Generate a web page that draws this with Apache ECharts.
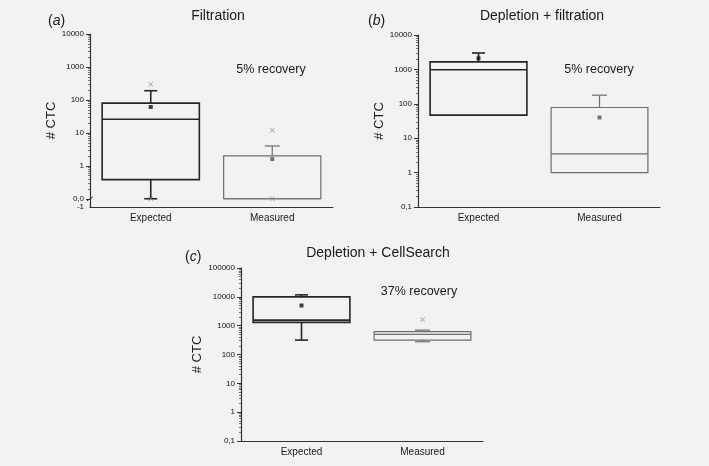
<!DOCTYPE html>
<html><head><meta charset="utf-8">
<script src="https://cdn.jsdelivr.net/npm/echarts@6/dist/echarts.min.js"></script>
<style>html,body{margin:0;padding:0;background:#f2f2f2}#chart{width:709px;height:466px}</style>
</head><body><div id="chart"></div>
<script>
const categories = ['Expected', 'Measured'];

// box statistics: [min, Q1, median, Q3, max]
const aBoxes = [[0, 0.38, 26, 80, 190], [0, 0, 0, 2, 4]];
const aMeans = [61, 1.6];
const aOutliers = [[0, 300], [0, 0], [1, 12], [1, 0]];
const aTickLabels = ['-1', '0,0', '1', '10', '100', '1000', '10000'];
const aTickLogs = [-1.25, -1, 0, 1, 2, 3, 4];

const bBoxes = [[47, 47, 980, 1650, 3000], [1, 1, 3.5, 78, 178]];
const bMeans = [2100, 40];
const bOutliers = [];
const bTickLabels = ['0,1', '1', '10', '100', '1000', '10000'];
const bTickLogs = [-1, 0, 1, 2, 3, 4];

const cBoxes = [[316, 1300, 1560, 10000, 11700], [277, 316, 500, 620, 700]];
const cMeans = [5000];
const cOutliers = [[1, 1650]];
const cTickLabels = ['0,1', '1', '10', '100', '1000', '10000', '100000'];
const cTickLogs = [-1, 0, 1, 2, 3, 4, 5];

const panelTitles = ['Filtration', 'Depletion + filtration', 'Depletion + CellSearch'];
const panelLetters = ['a', 'b', 'c'];
const recoveryTexts = ['5% recovery', '5% recovery', '37% recovery'];

const ZERO = -1; // position of the value 0 on the broken log axis of panel (a)
function pos(v) { return v <= 0 ? ZERO : Math.log10(v); }

const FONT = 'Liberation Sans, Arial, sans-serif';
const boxStyles = [
  { color: '#262626', lw: 1.6, cap: 13 },
  { color: '#6e6e6e', lw: 1.2, cap: 15 }
];
const meanColors = ['#111', '#555'];

const grids = [
  { left: 90, top: 34, width: 243, height: 173, min: -1.25, max: 4, ticks: aTickLogs, labels: aTickLabels, nameGap: 30 },
  { left: 418, top: 35, width: 242, height: 172, min: -1, max: 4, ticks: bTickLogs, labels: bTickLabels, nameGap: 29 },
  { left: 241, top: 268, width: 242, height: 173, min: -1, max: 5, ticks: cTickLogs, labels: cTickLabels, nameGap: 35 }
];
const boxesAll = [aBoxes, bBoxes, cBoxes];
const meansAll = [aMeans, bMeans, cMeans];
const outAll = [aOutliers, bOutliers, cOutliers];

function minorTicks(min, max) {
  const out = [];
  for (let n = Math.floor(min); n < max; n++) {
    for (let k = 2; k <= 9; k++) {
      const v = n + Math.log10(k);
      if (v >= Math.max(min, -1) && v <= max) out.push(v);
    }
  }
  return out;
}

function renderBox(params, api) {
  const i = params.dataIndex;
  const st = boxStyles[i];
  const x = api.value(0);
  const p = [1, 2, 3, 4, 5].map(k => api.coord([x, api.value(k)]));
  const cx = p[0][0];
  const w = api.size([1, 0])[0] * 0.8;
  const ls = { stroke: st.color, lineWidth: st.lw };
  const line = (x1, y1, x2, y2) => ({ type: 'line', shape: { x1, y1, x2, y2 }, style: ls });
  const ch = [];
  ch.push({ type: 'rect', shape: { x: cx - w / 2, y: p[3][1], width: w, height: p[1][1] - p[3][1] }, style: { fill: 'none', stroke: st.color, lineWidth: st.lw } });
  ch.push(line(cx - w / 2, p[2][1], cx + w / 2, p[2][1]));
  if (p[4][1] < p[3][1] - 0.5) {
    ch.push(line(cx, p[3][1], cx, p[4][1]));
    ch.push(line(cx - st.cap / 2, p[4][1], cx + st.cap / 2, p[4][1]));
  }
  if (p[0][1] > p[1][1] + 0.5) {
    ch.push(line(cx, p[1][1], cx, p[0][1]));
    ch.push(line(cx - st.cap / 2, p[0][1], cx + st.cap / 2, p[0][1]));
  }
  return { type: 'group', children: ch };
}

const X_PATH = 'path://M0,1L1,0L5,4L9,0L10,1L6,5L10,9L9,10L5,6L1,10L0,9L4,5Z';

const option = {
  backgroundColor: '#f2f2f2',
  animation: false,
  textStyle: { fontFamily: FONT },
  title: [
    { text: panelTitles[0], left: 218, top: 9, textAlign: 'center' },
    { text: panelTitles[1], left: 542, top: 9, textAlign: 'center' },
    { text: panelTitles[2], left: 378, top: 246, textAlign: 'center' },
    { text: '({i|' + panelLetters[0] + '})', left: 48, top: 14 },
    { text: '({i|' + panelLetters[1] + '})', left: 368, top: 14 },
    { text: '({i|' + panelLetters[2] + '})', left: 185, top: 250 },
    { text: recoveryTexts[0], left: 271, top: 63, textAlign: 'center', sub: true },
    { text: recoveryTexts[1], left: 599, top: 63, textAlign: 'center', sub: true },
    { text: recoveryTexts[2], left: 419, top: 285, textAlign: 'center', sub: true }
  ].map(t => ({
    text: t.text, left: t.left, top: t.top, textAlign: t.textAlign, padding: 0,
    textStyle: {
      fontFamily: FONT, fontSize: t.sub ? 12.5 : 14, fontWeight: 'normal', color: '#1a1a1a',
      rich: { i: { fontFamily: FONT, fontSize: 14, fontStyle: 'italic', color: '#1a1a1a' } }
    }
  })),
  grid: grids.map(g => ({ left: g.left, top: g.top, width: g.width, height: g.height, outerBoundsMode: 'none', containLabel: false })),
  xAxis: grids.map((g, gi) => ({
    type: 'category', gridIndex: gi, data: categories, boundaryGap: true, position: 'bottom',
    axisLine: { onZero: false, lineStyle: { color: '#333', width: 1.2 } },
    axisTick: { alignWithLabel: true, length: 3, lineStyle: { color: '#333' } },
    axisLabel: { fontSize: 10, color: '#1a1a1a', margin: 6, fontFamily: FONT },
    splitLine: { show: false }
  })),
  yAxis: [],
  series: []
};

grids.forEach((g, gi) => {
  option.yAxis.push({
    type: 'value', gridIndex: gi, min: g.min, max: g.max, position: 'left',
    name: '# CTC', nameLocation: 'middle', nameGap: g.nameGap, nameRotate: 90,
    nameTextStyle: { fontSize: 13, color: '#1a1a1a', fontFamily: FONT },
    axisLine: { show: true, onZero: false, lineStyle: { color: '#333', width: 1.2 } },
    axisTick: { show: true, length: 4, customValues: g.ticks.filter(v => v >= -1), lineStyle: { color: '#333' } },
    axisLabel: {
      fontSize: 8, color: '#111', margin: 6, fontFamily: FONT, customValues: g.ticks,
      formatter: v => { const idx = g.ticks.findIndex(t => Math.abs(t - v) < 1e-9); return idx >= 0 ? g.labels[idx] : ''; }
    },
    splitLine: { show: false }
  });
  option.yAxis.push({
    type: 'value', gridIndex: gi, min: g.min, max: g.max, position: 'left', offset: 0,
    axisLine: { show: false, onZero: false },
    axisTick: { show: true, length: 2, customValues: minorTicks(g.min, g.max), lineStyle: { color: '#555', width: 0.8 } },
    axisLabel: { show: false },
    splitLine: { show: false }
  });
  const yMain = gi * 2;
  option.series.push({
    type: 'custom', xAxisIndex: gi, yAxisIndex: yMain,
    renderItem: renderBox,
    encode: { x: 0, y: [1, 2, 3, 4, 5] },
    data: boxesAll[gi].map((b, i) => [i].concat(b.map(pos))),
    z: 2
  });
  option.series.push({
    type: 'scatter', xAxisIndex: gi, yAxisIndex: yMain,
    symbol: 'rect', symbolSize: 4,
    data: meansAll[gi].map((m, i) => ({ value: [i, pos(m)], itemStyle: { color: meanColors[i] } })),
    z: 3
  });
  if (outAll[gi].length) {
    option.series.push({
      type: 'scatter', xAxisIndex: gi, yAxisIndex: yMain,
      symbol: X_PATH, symbolSize: 5,
      itemStyle: { color: '#8a8a8a' },
      data: outAll[gi].map(o => [o[0], pos(o[1])]),
      z: 3
    });
  }
});

const chart = echarts.init(document.getElementById('chart'), null, { renderer: 'canvas' });
chart.setOption(option);

// axis break mark on panel (a)
const yBreak = chart.convertToPixel({ yAxisIndex: 0 }, ZERO);
chart.setOption({
  graphic: [{
    type: 'line', shape: { x1: grids[0].left - 3, y1: yBreak + 2, x2: grids[0].left + 3, y2: yBreak - 2 },
    style: { stroke: '#333', lineWidth: 1 }, z: 10
  }]
});
</script></body></html>
